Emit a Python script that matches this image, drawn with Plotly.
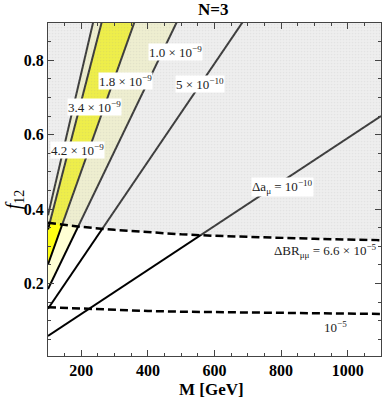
"""Delta a_mu contours vs M and f12 for N=3, with Delta BR_mumu exclusion."""

import plotly.graph_objects as go

# contour values of Delta a_mu and where each straight contour meets M=100 and M=1100
M_ENDS = [100, 1100]
DA_LABELS = ["4.2 × 10<sup>−9</sup>", "3.4 × 10<sup>−9</sup>", "1.8 × 10<sup>−9</sup>",
             "1.0 × 10<sup>−9</sup>", "5 × 10<sup>−10</sup>",
             "Δa<sub>μ</sub> = 10<sup>−10</sup>"]
DA_F_AT_100 = [0.383, 0.345, 0.251, 0.185, 0.132, 0.059]
DA_F_AT_1100 = [4.21, 3.80, 2.76, 2.04, 1.45, 0.650]

# Delta BR_mumu contours (dashed)
M_BR = [100, 200, 300, 400, 500, 600, 700, 800, 900, 1000, 1100]
BR_66 = [0.363, 0.352, 0.344, 0.337, 0.332, 0.328, 0.325, 0.322, 0.320, 0.318, 0.316]
BR_10 = [0.136, 0.132, 0.129, 0.126, 0.124, 0.123, 0.122, 0.121, 0.120, 0.119, 0.118]
BR_LABELS = ["ΔBR<sub>μμ</sub> = 6.6 × 10<sup>−5</sup>", "10<sup>−5</sup>"]

FONT = "Liberation Serif"
Y_TOP = 0.9

fig = go.Figure()


def da_line(i, **kw):
    return go.Scatter(x=M_ENDS, y=[DA_F_AT_100[i], DA_F_AT_1100[i]], mode="lines",
                      showlegend=False, hoverinfo="skip", **kw)


# 2 sigma band (1.0 - 4.2) and 1 sigma band (1.8 - 3.4)
fig.add_trace(da_line(3, line={"width": 0}))
fig.add_trace(da_line(0, line={"width": 0}, fill="tonexty", fillcolor="#ffffd4"))
fig.add_trace(da_line(2, line={"width": 0}))
fig.add_trace(da_line(1, line={"width": 0}, fill="tonexty", fillcolor="#ffff14"))

# contour lines
for i in range(len(DA_F_AT_100)):
    fig.add_trace(da_line(i, line={"color": "black", "width": 2}))

# excluded region above BR = 6.6e-5 (drawn over the contours, semi-transparent, dotted)
fig.add_trace(go.Scatter(x=M_BR, y=BR_66, mode="lines", line={"width": 0},
                         showlegend=False, hoverinfo="skip"))
fig.add_trace(go.Scatter(x=M_BR, y=[Y_TOP + 0.1] * len(M_BR), mode="lines",
                         line={"width": 0}, fill="tonexty",
                         fillcolor="rgba(200,200,200,0.3)",
                         fillpattern={"shape": ".", "size": 3, "solidity": 0.25,
                                      "fgcolor": "rgba(150,150,150,0.25)",
                                      "bgcolor": "rgba(200,200,200,0.3)"},
                         showlegend=False, hoverinfo="skip"))

for ys in (BR_66, BR_10):
    fig.add_trace(go.Scatter(x=M_BR, y=ys, mode="lines",
                             line={"color": "black", "width": 2.5, "dash": "8px,4px"},
                             showlegend=False, hoverinfo="skip"))

# contour labels (M, f where they sit on the plot)
label_pos = [(188, 0.558), (239, 0.673), (332, 0.743), (482, 0.8215), (557, 0.735),
             (803, 0.459), (932, 0.287), (962, 0.084)]
for text, (mx, fy) in zip(DA_LABELS + BR_LABELS, label_pos):
    fig.add_annotation(x=mx, y=fy, text=text, showarrow=False, bgcolor="white",
                       borderpad=0, font={"family": FONT, "size": 13, "color": "#222"})

# title and axis titles placed in paper coordinates
text_common = dict(xref="paper", yref="paper", showarrow=False,
                   xanchor="center", yanchor="middle")
fig.add_annotation(x=0.495, y=1.042, text="<b>N=3</b>",
                   font={"family": FONT, "size": 17, "color": "black"}, **text_common)
fig.add_annotation(x=0.492, y=-0.102, text="<b>M [GeV]</b>",
                   font={"family": FONT, "size": 17, "color": "black"}, **text_common)
fig.add_annotation(x=-0.1, y=0.47, textangle=-90, text="<i>f</i><sub>12</sub>",
                   font={"family": FONT, "size": 20, "color": "black"}, **text_common)

axis_common = dict(
    showline=True, linecolor="#444", linewidth=1, mirror="allticks",
    ticks="inside", ticklen=6, tickcolor="#444", showgrid=False, zeroline=False,
    tickfont={"family": FONT, "size": 16, "color": "black", "weight": "bold"},
)
fig.update_xaxes(range=[100, 1100], tickvals=[200, 400, 600, 800, 1000],
                 minor={"dtick": 50, "tick0": 0, "ticks": "inside", "ticklen": 3,
                        "tickcolor": "#444"},
                 **axis_common)
fig.update_yaxes(range=[0.005, Y_TOP], tickvals=[0.2, 0.4, 0.6, 0.8],
                 minor={"dtick": 0.05, "tick0": 0, "ticks": "inside", "ticklen": 3,
                        "tickcolor": "#444"},
                 **axis_common)

fig.update_layout(
    width=382, height=401,
    margin={"l": 48, "r": 1, "t": 23, "b": 45},
    paper_bgcolor="white", plot_bgcolor="white",
    showlegend=False,
)

fig.write_html("out.html", config={"displayModeBar": False},
               post_script="document.body.style.margin='0';"
                           "document.body.style.overflow='hidden';")
